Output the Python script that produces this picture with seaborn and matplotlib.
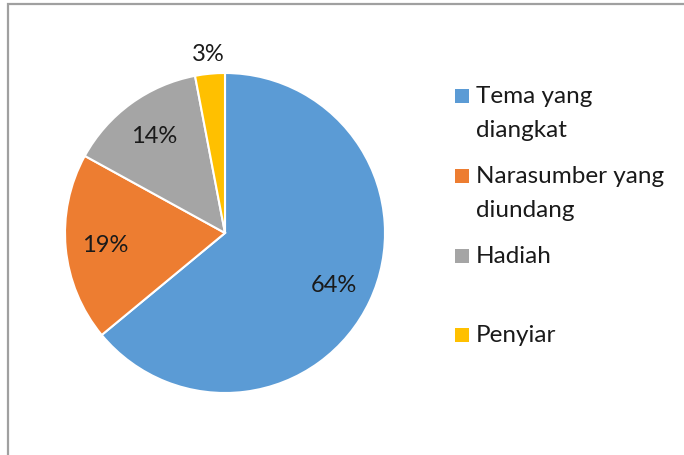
import numpy as np
import matplotlib
matplotlib.use('Agg')
import matplotlib.pyplot as plt
import seaborn as sns
from matplotlib.patches import Rectangle

sns.set_theme(style='white')
plt.rcParams['font.family'] = ['Lato', 'DejaVu Sans']

# Data
labels = ['Tema yang\ndiangkat', 'Narasumber yang\ndiundang', 'Hadiah', 'Penyiar']
values = [64, 19, 14, 3]
colors = ['#5B9BD5', '#ED7D31', '#A5A5A5', '#FFC000']

W, H = 684, 456
fig = plt.figure(figsize=(W / 100, H / 100), dpi=100)
fig.patch.set_facecolor('white')

# pie axes: centre (225, 234) px, radius 160 px
cx, cy, r = 225, 234, 160
ax = fig.add_axes([(cx - r) / W, (H - cy - r) / H, 2 * r / W, 2 * r / H])
wedges, texts, autotexts = ax.pie(values, colors=colors, startangle=90, counterclock=False,
                                  autopct='%d%%', pctdistance=0.75,
                                  wedgeprops=dict(edgecolor='white', linewidth=1.5),
                                  textprops=dict(fontsize=17, color='#1a1a1a'))
ax.set_xlim(-1, 1)
ax.set_ylim(-1, 1)
ax.set_aspect('equal')
ax.axis('off')

# small slice label sits outside the pie
w = wedges[-1]
mid = np.deg2rad((w.theta1 + w.theta2) / 2)
autotexts[-1].set_position((1.13 * np.cos(mid), 1.13 * np.sin(mid)))
autotexts[-1].set_clip_on(False)

# legend drawn by hand, Excel style
leg_y = [97, 177, 257, 336]
for lab, col, y in zip(labels, colors, leg_y):
    fig.patches.append(Rectangle((455 / W, 1 - (y + 7) / H), 14 / W, 14 / H,
                                 facecolor=col, edgecolor='none', transform=fig.transFigure))
    fig.text(476 / W, 1 - (y - 11) / H, lab, fontsize=17.5, color='#1a1a1a',
             va='top', ha='left', linespacing=1.75)

# chart border (top and left visible)
fig.patches.append(Rectangle((8 / W, -0.5), 2, 1.5 - 5 / H, fill=False,
                             edgecolor='#A0A0A0', linewidth=1.6, transform=fig.transFigure))

fig.savefig('out.png', dpi=100)
